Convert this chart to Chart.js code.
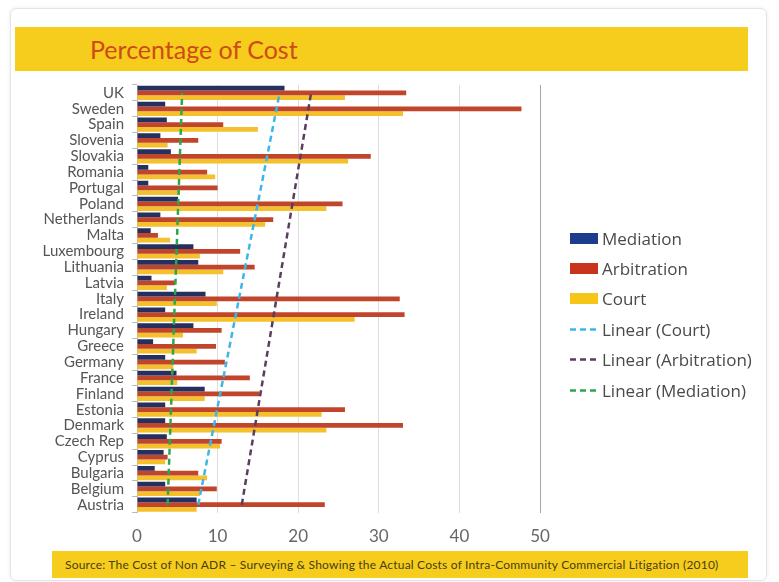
<!DOCTYPE html>
<html><head><meta charset="utf-8">
<script src="https://cdn.jsdelivr.net/npm/chart.js@4/dist/chart.umd.min.js"></script>
<style>
html,body{margin:0;padding:0;background:#fff;width:779px;height:582px;overflow:hidden;font-family:Lato,sans-serif}
#card{position:absolute;left:10px;top:8px;width:755px;height:571px;border:1px solid #e4e4e4;border-radius:6px;box-shadow:0 0 4px rgba(0,0,0,0.07)}
#titlebar{position:absolute;left:15px;top:27px;width:733px;height:44px;background:#f6cd1c}
#title{position:absolute;left:90px;top:34px;font-size:25px;line-height:30px;color:#d04a17;font-family:Lato,sans-serif}
#srcbar{position:absolute;left:52px;top:551px;width:696px;height:27px;background:#f6cd1c}
#src{position:absolute;left:65px;top:558px;font-size:12px;line-height:14px;color:#4a3c14;white-space:nowrap;letter-spacing:0.2px}
#wrap{position:absolute;left:15px;top:68px;width:764px;height:495px}
#legend{position:absolute;left:570px;top:223px;font-family:'Open Sans',sans-serif;font-size:17px;color:#4a4a4a}
#legend .it{display:flex;align-items:center;height:30.4px;white-space:nowrap}
#legend .sw{width:28px;height:11px;margin-right:4px;flex:none}
#legend svg{flex:none;margin-right:4px}
</style></head><body>
<div id="card"></div>
<div id="titlebar"></div>
<div id="title">Percentage of Cost</div>
<div id="srcbar"></div>
<div id="src">Source: The Cost of Non ADR – Surveying &amp; Showing the Actual Costs of Intra-Community Commercial Litigation (2010)</div>
<div id="wrap"><canvas id="c" width="764" height="495"></canvas></div>
<div id="legend"></div>
<script>
const categories = ['UK','Sweden','Spain','Slovenia','Slovakia','Romania','Portugal','Poland','Netherlands','Malta','Luxembourg','Lithuania','Latvia','Italy','Ireland','Hungary','Greece','Germany','France','Finland','Estonia','Denmark','Czech Rep','Cyprus','Bulgaria','Belgium','Austria'];
const mediation   = [18.3,3.5,3.7,2.9,4.2,1.4,1.4,5.1,2.9,1.7,7.0,7.6,1.8,8.5,3.5,7.0,2.0,3.5,4.9,8.4,3.5,3.5,3.7,3.3,2.2,3.5,7.4];
const arbitration = [33.4,47.7,10.7,7.6,29.0,8.7,10.0,25.5,16.9,2.6,12.8,14.6,4.7,32.6,33.2,10.5,9.8,10.9,14.0,15.2,25.8,33.0,10.5,3.8,7.6,9.9,23.3];
const court       = [25.8,33.0,15.0,3.8,26.2,9.7,5.3,23.5,15.9,4.1,7.8,10.7,3.7,9.9,27.0,5.7,7.4,4.5,5.0,8.4,22.9,23.5,10.3,3.5,8.7,7.8,7.4];
// trendline end values: [Austria end, UK end]
const trendEnds = ['Austria','UK'];
const trendCourt = [7.6, 17.7];
const trendArbitration = [13.0, 21.6];
const trendMediation = [3.8, 5.6];
const xTicks = [0,10,20,30,40,50];

const pts = arr => arr.map((v,i)=>({x:v, y:trendEnds[i]}));

const chart = new Chart(document.getElementById('c'), {
  type:'bar',
  data:{
    labels:categories,
    datasets:[
      {label:'Mediation', data:mediation, backgroundColor:'#26305e', borderWidth:0, barPercentage:1, categoryPercentage:0.9},
      {label:'Arbitration', data:arbitration, backgroundColor:'#c0452b', borderWidth:0, barPercentage:1, categoryPercentage:0.9},
      {label:'Court', data:court, backgroundColor:'#f4c02c', borderWidth:0, barPercentage:1, categoryPercentage:0.9},
      {type:'line', label:'Linear (Court)', data:pts(trendCourt), indexAxis:'y', borderColor:'#3cb6e8', borderDash:[6,4], borderWidth:2.5, pointRadius:0, fill:false, order:-1},
      {type:'line', label:'Linear (Arbitration)', data:pts(trendArbitration), indexAxis:'y', borderColor:'#5b3d5f', borderDash:[6,4], borderWidth:2.5, pointRadius:0, fill:false, order:-1},
      {type:'line', label:'Linear (Mediation)', data:pts(trendMediation), indexAxis:'y', borderColor:'#2aa84c', borderDash:[6,4], borderWidth:2.5, pointRadius:0, fill:false, order:-1}
    ]
  },
  options:{
    indexAxis:'y',
    responsive:false,
    animation:false,
    layout:{padding:{top:2,bottom:2,right:239,left:0}},
    plugins:{ tooltip:{enabled:false}, legend:{display:false} },
    scales:{
      x:{
        min:0, max:50,
        afterBuildTicks:(s)=>{ s.ticks = xTicks.map(v=>({value:v})); },
        ticks:{color:'#666', font:{family:'Lato', size:17}, padding:14},
        grid:{color:(ctx)=> (ctx.tick && ctx.tick.value===50) ? '#a8a8a8' : '#dedede', drawTicks:false},
        border:{display:false}
      },
      y:{
        afterFit:(s)=>{ s.width = 122; },
        ticks:{color:'#555', font:{family:'Lato', size:15}, padding:8, autoSkip:false},
        grid:{display:true, drawOnChartArea:false, tickLength:5, color:'#bbb', offset:true},
        border:{display:true, color:'#bbb'}
      }
    }
  }
});

// HTML legend built from the chart's datasets
const legendSwatch = ['#1c3c8c','#c8341e','#f5c518'];
const lg = document.getElementById('legend');
chart.data.datasets.forEach((ds,i)=>{
  const row = document.createElement('div'); row.className='it';
  if (ds.type === 'line') {
    row.innerHTML = '<svg width="28" height="11"><line x1="0" y1="5.5" x2="28" y2="5.5" stroke="'+ds.borderColor+'" stroke-width="2.5" stroke-dasharray="6,4"/></svg>';
  } else {
    row.innerHTML = '<div class="sw" style="background:'+legendSwatch[i]+'"></div>';
  }
  const t = document.createElement('span'); t.textContent = ds.label; row.appendChild(t);
  lg.appendChild(row);
});
</script>
</body></html>
